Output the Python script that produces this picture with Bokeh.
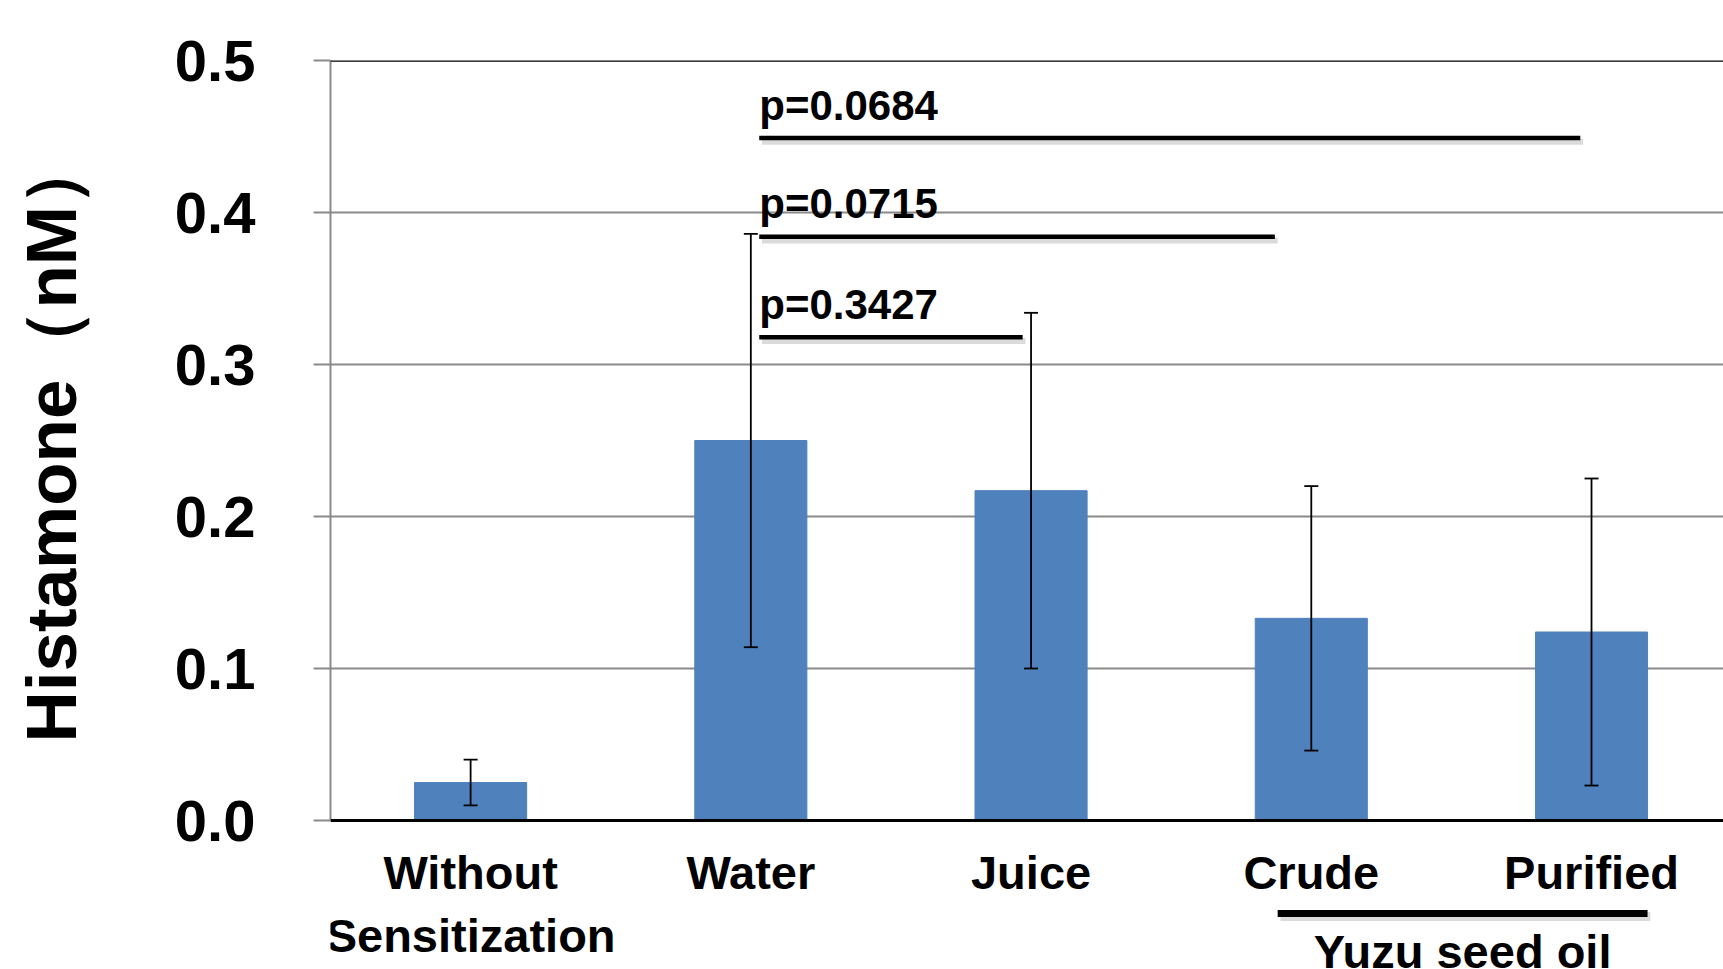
import math
from bokeh.plotting import figure
from bokeh.models import Range1d, FixedTicker, PrintfTickFormatter, Span, Whisker, TeeHead, ColumnDataSource, Title
from bokeh.core.properties import value
from bokeh.embed import file_html
from bokeh.resources import INLINE

# ---- data ----
categories = ["Without Sensitization", "Water", "Juice", "Crude", "Purified"]
label_line1 = ["Without", "Water", "Juice", "Crude", "Purified"]
label_line2 = ["Sensitization", "", "", "", ""]
means = [0.025, 0.250, 0.217, 0.133, 0.124]
errors = [0.015, 0.136, 0.117, 0.087, 0.101]
y_ticks = [0.0, 0.1, 0.2, 0.3, 0.4, 0.5]
y_title = "Histamone（nM）"

sig_labels = ["p=0.3427", "p=0.0715", "p=0.0684"]
sig_start = [1.03, 1.03, 1.03]
sig_end = [1.97, 2.87, 3.96]
sig_y = [0.318, 0.384, 0.449]

group_label = "Yuzu seed oil"
group_start = 2.88
group_end = 4.20
group_y = -0.0612

# ---- styling ----
BLUE = "#4F81BD"
GRID = "#8a8a8a"
FONT = "Liberation Sans"

idx = list(range(len(categories)))
upper = [m + e for m, e in zip(means, errors)]
lower = [m - e for m, e in zip(means, errors)]
src = ColumnDataSource(dict(x=idx, top=means, upper=upper, lower=lower,
                            l1=label_line1, l2=label_line2, zero=[0.0] * len(idx)))

W, H = 1723, 969
top_border = 60
frame_h = H - top_border
px_per_unit = 1520.0
y_bottom = 0.5 - frame_h / px_per_unit

p = figure(width=W, height=H, x_range=Range1d(-0.5, 4.471), y_range=Range1d(y_bottom, 0.5),
           output_backend="svg", toolbar_location=None, x_axis_location=None,
           min_border_left=330, min_border_right=0, min_border_top=top_border, min_border_bottom=0)
p.outline_line_color = None
p.background_fill_color = "white"
p.xgrid.visible = False
p.ygrid.ticker = FixedTicker(ticks=y_ticks)
p.ygrid.grid_line_color = GRID
p.ygrid.grid_line_width = 2

ax = p.yaxis[0]
ax.ticker = FixedTicker(ticks=y_ticks)
ax.bounds = (0, 0.5)
ax.formatter = PrintfTickFormatter(format="%.1f")
ax.axis_line_color = GRID
ax.axis_line_width = 2
ax.major_tick_line_color = GRID
ax.major_tick_line_width = 2
ax.major_tick_out = 17
ax.major_tick_in = 0
ax.minor_tick_line_color = None
ax.major_label_standoff = 58
ax.major_label_text_font = FONT
ax.major_label_text_font_size = "58px"
ax.major_label_text_font_style = "bold"
ax.major_label_text_color = "black"

# y-axis title as a side title, positioned from the bottom of the frame
# (a blank second line pushes the visible line further out to the left)
p.add_layout(Title(text=y_title + "\n\u00a0", align="left", offset=227, vertical_align="top", standoff=0,
                   text_font=FONT, text_font_size="71px",
                   text_font_style="bold", text_color="black"), "left")

# bars
p.vbar(x="x", top="top", bottom=0, width=0.4, source=src, fill_color=BLUE, line_color=BLUE)

# baseline and top border
p.add_layout(Span(location=0, dimension="width", line_color="black", line_width=3))
p.add_layout(Span(location=0.5, dimension="width", line_color="black", line_width=2.5))

# error bars
p.add_layout(Whisker(base="x", upper="upper", lower="lower", source=src, level="annotation",
                     line_color="black", line_width=1.8,
                     upper_head=TeeHead(size=14, line_color="black", line_width=1.8),
                     lower_head=TeeHead(size=14, line_color="black", line_width=1.8)))

# significance lines with soft shadow
p.segment(x0=[s + 0.01 for s in sig_start], x1=[e + 0.01 for e in sig_end],
          y0=[y - 0.0025 for y in sig_y], y1=[y - 0.0025 for y in sig_y],
          line_color="#999999", line_alpha=0.35, line_width=6)
p.segment(x0=sig_start, x1=sig_end, y0=sig_y, y1=sig_y, line_color="black", line_width=4.5)
p.text(x=sig_start, y=sig_y, text=sig_labels, text_align="left", text_baseline="alphabetic",
       y_offset=-33, text_font=value(FONT), text_font_size="42px", text_font_style="bold",
       text_color="black")

# category labels
p.text(x="x", y="zero", text="l1", source=src, text_align="center", text_baseline="alphabetic",
       y_offset=52, text_font=value(FONT), text_font_size="47px", text_font_style="bold",
       text_color="black")
p.text(x="x", y="zero", text="l2", source=src, text_align="center", text_baseline="alphabetic",
       y_offset=115, text_font=value(FONT), text_font_size="47px", text_font_style="bold",
       text_color="black")

# group bracket "Yuzu seed oil"
p.segment(x0=[group_start + 0.01], x1=[group_end + 0.01], y0=[group_y - 0.002], y1=[group_y - 0.002],
          line_color="#999999", line_alpha=0.35, line_width=9)
p.segment(x0=[group_start], x1=[group_end], y0=[group_y], y1=[group_y], line_color="black", line_width=7)
p.text(x=[(group_start + group_end) / 2], y=[0.0], text=[group_label], text_align="center",
       text_baseline="alphabetic", y_offset=131, text_font=value(FONT), text_font_size="47px",
       text_font_style="bold", text_color="black")

open("out.html", "w").write(file_html(p, INLINE))
